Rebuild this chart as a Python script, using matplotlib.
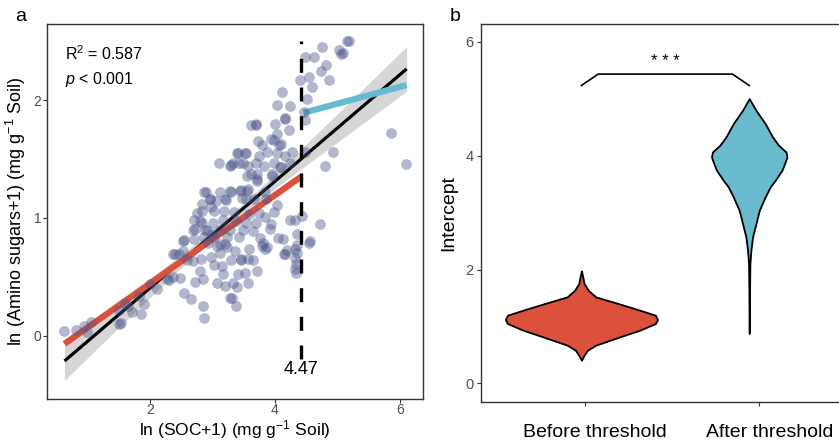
import numpy as np
import matplotlib.pyplot as plt
from matplotlib.transforms import ScaledTranslation

plt.rcParams['font.family'] = ['Liberation Sans', 'DejaVu Sans']
plt.rcParams['mathtext.fontset'] = 'custom'
plt.rcParams['mathtext.rm'] = 'Liberation Sans'
plt.rcParams['mathtext.it'] = 'Liberation Sans:italic'
plt.rcParams['mathtext.default'] = 'regular'

# ---- panel a data ----
soc = [5.19, 5.16, 4.75, 5.03, 5.09, 5.06, 4.62, 4.49, 4.82, 4.74, 4.55, 4.87, 4.40, 4.59, 4.12,
       4.51, 4.04, 4.25, 4.47, 4.16, 4.00, 3.70, 3.70, 4.23, 4.03, 3.98, 3.73, 3.79, 4.10, 5.86,
       6.10, 4.93, 4.80, 4.48, 4.48, 4.17,
       3.41, 3.54, 3.75, 3.87, 4.03, 4.16, 4.28, 3.10, 3.30, 3.43, 3.57, 3.69, 3.83, 3.99,
       4.10, 4.24, 3.61, 3.72, 3.95, 3.71, 3.57, 3.45, 3.30, 3.12, 2.90, 3.84, 3.06, 3.22,
       3.47, 3.66, 3.86, 4.03, 3.98, 2.97, 2.83, 2.70, 3.02, 3.18, 3.34, 3.58, 3.74, 2.80,
       3.01, 3.17, 3.37, 3.53, 3.69, 3.84, 3.93, 4.24, 4.32, 4.43, 4.72, 2.72, 2.91, 3.12,
       3.28, 3.49, 3.65, 3.92, 4.35, 2.54, 2.70, 2.86, 3.02, 3.23, 3.42, 3.76, 3.81, 3.87,
       4.05, 4.13, 4.35, 4.56, 4.55, 4.19, 4.33, 4.35, 4.33, 4.34, 4.33, 4.34, 3.07, 3.23,
       3.36, 3.58, 3.79, 3.84, 4.16, 4.14, 2.59, 2.47, 2.40, 2.53, 2.53, 2.82, 2.98, 3.12,
       3.29, 3.46, 3.65, 3.15, 3.02, 3.17, 2.69, 2.80, 2.72, 2.85, 3.07, 3.20, 3.33, 3.39,
       3.41, 3.52, 3.57, 3.71, 3.57, 3.28, 3.38, 3.31, 2.54, 2.65, 2.85, 2.87, 2.48, 2.27,
       2.30, 2.37, 2.11, 2.00, 1.82, 1.90, 1.85, 1.71, 1.60, 1.65, 1.50, 1.50, 1.53, 1.06,
       0.99, 0.95, 0.82, 0.62, 2.75, 2.83, 2.88, 2.69, 2.83, 2.37, 2.87, 2.96, 3.28, 3.40,
       3.52, 3.55, 3.28, 3.44, 3.54, 3.20, 2.96, 3.55, 3.71, 3.62, 3.93, 4.06, 3.49, 3.33,
       3.95, 4.08, 3.20, 3.00, 2.93, 3.12, 3.45]
amino = [2.50, 2.50, 2.45, 2.43, 2.40, 2.39, 2.37, 2.37, 2.30, 2.25, 2.20, 2.17, 2.17, 2.11, 2.07,
         2.01, 1.96, 1.95, 1.90, 1.84, 1.80, 1.79, 1.80, 1.75, 1.71, 1.66, 1.65, 1.62, 1.63, 1.72,
         1.46, 1.56, 1.44, 1.56, 1.83, 1.85,
         1.55, 1.55, 1.53, 1.56, 1.55, 1.53, 1.56, 1.47, 1.45, 1.47, 1.44, 1.47, 1.44, 1.47,
         1.43, 1.47, 1.37, 1.37, 1.36, 1.31, 1.25, 1.24, 1.22, 1.22, 1.22, 1.22, 1.14, 1.15,
         1.17, 1.16, 1.16, 1.11, 1.05, 1.09, 1.06, 0.98, 1.06, 1.06, 1.05, 1.03, 1.04, 0.97,
         0.96, 0.98, 0.97, 0.96, 0.96, 1.01, 0.95, 0.98, 0.98, 1.02, 0.95, 0.91, 0.90, 0.90,
         0.90, 0.90, 0.89, 0.91, 0.86, 0.81, 0.82, 0.84, 0.84, 0.84, 0.84, 0.83, 0.79, 0.75,
         0.83, 0.82, 0.77, 0.80, 0.79, 0.73, 0.74, 0.70, 0.66, 0.61, 0.57, 0.53, 0.76, 0.75,
         0.72, 0.74, 0.76, 0.74, 0.69, 0.69, 0.64, 0.69, 0.69, 0.72, 0.80, 0.65, 0.67, 0.70,
         0.64, 0.64, 0.64, 0.59, 0.60, 0.52, 0.63, 0.55, 0.46, 0.48, 0.45, 0.42, 0.45, 0.41,
         0.52, 0.53, 0.45, 0.55, 0.65, 0.32, 0.25, 0.32, 0.36, 0.31, 0.25, 0.15, 0.49, 0.48,
         0.47, 0.50, 0.40, 0.44, 0.34, 0.27, 0.18, 0.20, 0.28, 0.25, 0.22, 0.10, 0.11, 0.12,
         0.03, 0.08, 0.05, 0.04, 1.04, 1.12, 0.90, 0.90, 0.96, 0.69, 1.22, 1.16, 1.44, 1.55,
         1.55, 1.23, 1.23, 1.23, 1.16, 1.16, 1.16, 1.36, 1.33, 1.79, 1.67, 1.62, 1.47, 1.47,
         1.37, 1.43, 0.78, 0.86, 0.79, 0.78, 0.65]

fit_x = [0.63, 6.11]
fit_y = [-0.216, 2.267]
ci_x = [0.63, 1.5, 2.5, 3.2, 4.0, 5.0, 6.11]
ci_hw = [0.165, 0.11, 0.055, 0.035, 0.06, 0.12, 0.19]
before_x = [0.63, 4.43]
before_y = [-0.07, 1.355]
after_x = [4.46, 6.11]
after_y = [1.894, 2.13]
threshold_pos = 4.42
threshold_label = "4.47"

# ---- panel b data: violin outlines (y, half-width) ----
before_vy = [1.976, 1.871, 1.754, 1.637, 1.520, 1.403, 1.286, 1.198, 1.122, 1.052, 0.935,
             0.818, 0.672, 0.584, 0.496, 0.409]
before_vw = [0.0, 0.008, 0.016, 0.040, 0.085, 0.219, 0.348, 0.441, 0.453, 0.441, 0.348,
             0.229, 0.085, 0.036, 0.016, 0.0]
after_vy = [4.999, 4.795, 4.561, 4.327, 4.181, 4.064, 3.976, 3.859, 3.742, 3.567, 3.450,
            3.274, 3.040, 2.806, 2.572, 2.339, 2.105, 1.637, 0.877]
after_vw = [0.0, 0.040, 0.095, 0.139, 0.175, 0.219, 0.225, 0.211, 0.195, 0.155, 0.125,
            0.095, 0.060, 0.040, 0.020, 0.010, 0.004, 0.002, 0.0]
groups = ["Before threshold", "After threshold"]
group_colors = ["#DC513C", "#6ABBCE"]

fig = plt.figure(figsize=(8.39, 4.42), dpi=100)

# ---------------- panel a ----------------
ax = fig.add_axes([0.056, 0.098, 0.448, 0.847])
gx = np.linspace(fit_x[0], fit_x[1], 200)
gy = np.interp(gx, fit_x, fit_y)
ghw = np.interp(gx, ci_x, ci_hw)
ax.fill_between(gx, gy - ghw, gy + ghw, color="#D6D6D6", lw=0, zorder=1)
ax.plot(fit_x, fit_y, color="black", lw=2.3, zorder=2, solid_capstyle="butt")
ax.plot(before_x, before_y, color="#DC513C", lw=4.5, zorder=3, solid_capstyle="butt")
ax.plot(after_x, after_y, color="#63BCCF", lw=4.5, zorder=3, solid_capstyle="butt")
ax.scatter(soc, amino, s=60, color="#4B5488", alpha=0.42, lw=0, zorder=4)
ax.plot([threshold_pos, threshold_pos], [-0.20, 2.50], color="black", lw=2.4,
        dashes=(4.2, 4.4), zorder=5)
ax.text(threshold_pos, -0.29, threshold_label, ha="center", va="center", fontsize=13)
ax.text(0.64, 2.40, "R$^2$ = 0.587", fontsize=11.5, va="center")
ax.text(0.64, 2.18, r"$\mathit{p}$ < 0.001", fontsize=11.5, va="center")

ax.set_xlim(0.35, 6.37)
ax.set_ylim(-0.536, 2.646)
ax.set_xticks([2, 4, 6])
ax.set_yticks([0, 1, 2])
ax.set_xlabel("ln (SOC+1) (mg g$^{-1}$ Soil)", fontsize=12.5)
ax.xaxis.set_label_coords(0.5, -0.052)
ax.set_ylabel("ln (Amino sugars+1) (mg g$^{-1}$ Soil)", fontsize=13, labelpad=4)
ax.tick_params(direction="out", length=3, width=0.8, color="#333333",
               labelcolor="#4D4D4D", labelsize=10, pad=1)
ax.tick_params(axis="x", pad=0)
for s in ax.spines.values():
    s.set_linewidth(1.0)
    s.set_color("#333333")

# ---------------- panel b ----------------
bx = fig.add_axes([0.573, 0.0912, 0.44, 0.854])
for i, (vy, vw) in enumerate([(before_vy, before_vw), (after_vy, after_vw)]):
    yy = np.linspace(min(vy), max(vy), 300)
    ww = np.interp(yy, vy[::-1], vw[::-1])
    bx.fill_betweenx(yy, i + 1 - ww, i + 1 + ww, facecolor=group_colors[i],
                     edgecolor="black", lw=1.3, zorder=2)
bx.plot([1.0, 1.10, 1.90, 2.0], [5.23, 5.43, 5.43, 5.23], color="black", lw=1.2)
bx.text(1.5, 5.65, "* * *", ha="center", va="center", fontsize=12)

bx.set_xlim(0.4, 2.6)
bx.set_ylim(-0.32, 6.305)
bx.set_yticks([0, 2, 4, 6])
bx.set_xticks([1.02, 2.06])
bx.set_xticklabels(groups)
bx.set_ylabel("Intercept", fontsize=14, labelpad=6)
bx.tick_params(direction="out", length=3, width=0.8, color="#333333",
               labelcolor="#4D4D4D", labelsize=10.5, pad=2)
bx.tick_params(axis="x", pad=13, labelcolor="black", labelsize=14)
shift = ScaledTranslation(10 / 100, 0, fig.dpi_scale_trans)
for lab in bx.get_xticklabels():
    lab.set_transform(lab.get_transform() + shift)
for s in bx.spines.values():
    s.set_linewidth(1.0)
    s.set_color("#333333")

fig.text(0.018, 0.962, "a", fontsize=14, va="center")
fig.text(0.536, 0.962, "b", fontsize=14, va="center")

fig.savefig("out.png", dpi=100)
